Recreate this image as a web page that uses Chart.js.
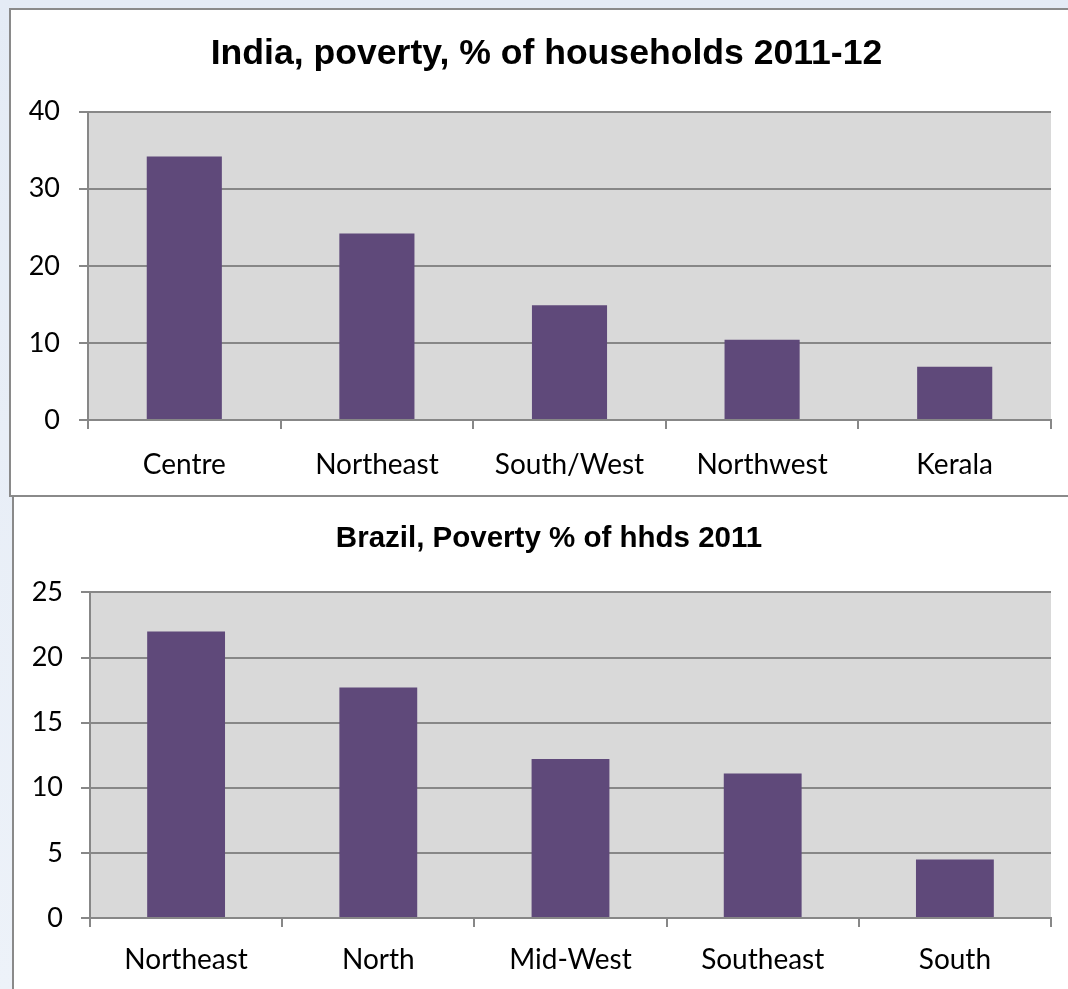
<!DOCTYPE html>
<html>
<head>
<meta charset="utf-8">
<script src="https://cdn.jsdelivr.net/npm/chart.js@4.4.1/dist/chart.umd.min.js"></script>
<style>
  html, body { margin: 0; padding: 0; }
  body {
    width: 1068px; height: 989px; overflow: hidden; position: relative;
    background: linear-gradient(180deg, #e4ebf5 0%, #edf2f9 100%);
  }
  .panel { position: absolute; background: #fff; border: 2px solid #8a8a8a; }
  #panelIndia { left: 9px; top: 8px; width: 1080px; height: 485px; }
  #panelBrazil { left: 12px; top: 495px; width: 1080px; height: 520px; }
  canvas { position: absolute; }
</style>
</head>
<body>
<div class="panel" id="panelIndia"></div>
<div class="panel" id="panelBrazil"></div>
<canvas id="indiaChart" width="1057" height="485" style="left:11px; top:10px;"></canvas>
<canvas id="brazilChart" width="1054" height="490" style="left:14px; top:499px;"></canvas>
<script>
// India 2011-12
const indiaRegions = ["Centre", "Northeast", "South/West", "Northwest", "Kerala"];
const indiaPoverty = [34.2, 24.2, 14.9, 10.4, 6.9];
const indiaMax = 40;
const indiaStep = 10;

// Brazil 2011
const brazilRegions = ["Northeast", "North", "Mid-West", "Southeast", "South"];
const brazilPoverty = [22.0, 17.7, 12.2, 11.1, 4.5];
const brazilMax = 25;
const brazilStep = 5;

const barColor = "#5f497a";
const plotBg = "#d9d9d9";
const lineGray = "#878787";

// grey plot area behind the bars
const plotAreaBg = {
  id: "plotAreaBg",
  beforeDraw(chart) {
    const a = chart.chartArea;
    const ctx = chart.ctx;
    ctx.save();
    ctx.fillStyle = plotBg;
    ctx.fillRect(a.left, a.top, a.right - a.left, a.bottom - a.top);
    ctx.restore();
  }
};

// nudge the title block sideways (the y axis labels take room on the left)
const titleShift = {
  id: "titleShift",
  afterLayout(chart, args, opts) {
    const t = chart.titleBlock;
    if (t && opts.dx) {
      t.left += opts.dx;
      t.right += opts.dx;
    }
  }
};

function makeChart(id, labels, values, max, step, o) {
  const ctx = document.getElementById(id).getContext("2d");
  return new Chart(ctx, {
    type: "bar",
    data: {
      labels: labels,
      datasets: [{
        data: values,
        backgroundColor: barColor,
        borderWidth: 0,
        categoryPercentage: 1,
        barPercentage: o.barPct
      }]
    },
    options: {
      responsive: false,
      animation: false,
      layout: { padding: { left: 0, right: 17, top: 0, bottom: 0 } },
      plugins: {
        legend: { display: false },
        tooltip: { enabled: false },
        titleShift: { dx: o.titleDx },
        title: {
          display: true,
          text: o.title,
          color: "#000",
          font: { family: "Liberation Sans", size: o.titleSize, weight: "bold" },
          padding: { top: o.titleTop, bottom: o.titleBottom }
        }
      },
      scales: {
        x: {
          grid: {
            offset: true,
            drawOnChartArea: false,
            drawTicks: true,
            tickLength: 9,
            color: lineGray,
            lineWidth: 2
          },
          border: { display: true, color: lineGray, width: 2 },
          ticks: {
            color: "#000",
            padding: o.xPad,
            maxRotation: 0,
            font: { family: "Lato", size: 28 }
          },
          afterFit(scale) { scale.height = o.xHeight; }
        },
        y: {
          min: 0,
          max: max,
          grid: {
            color: lineGray,
            lineWidth: 2,
            drawTicks: true,
            tickLength: 9
          },
          border: { display: true, color: lineGray, width: 2 },
          ticks: {
            stepSize: step,
            color: "#000",
            padding: o.yPad,
            font: { family: "Lato", size: 27 }
          },
          afterFit(scale) { scale.width = o.yWidth; }
        }
      }
    },
    plugins: [plotAreaBg, titleShift]
  });
}

makeChart("indiaChart", indiaRegions, indiaPoverty, indiaMax, indiaStep, {
  title: "India, poverty, % of households 2011-12",
  titleSize: 35.6,
  titleTop: 23,
  titleBottom: 36,
  titleDx: 15.5,
  yWidth: 77,
  xHeight: 75,
  xPad: 19,
  yPad: 19,
  barPct: 0.39
});

makeChart("brazilChart", brazilRegions, brazilPoverty, brazilMax, brazilStep, {
  title: "Brazil, Poverty % of hhds 2011",
  titleSize: 29.5,
  titleTop: 22,
  titleBottom: 36,
  titleDx: 16.5,
  yWidth: 76,
  xHeight: 71,
  xPad: 16,
  yPad: 18,
  barPct: 0.405
});
</script>
</body>
</html>
